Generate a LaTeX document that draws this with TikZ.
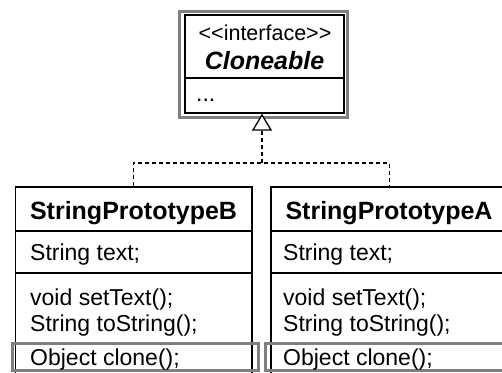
\documentclass[tikz,border=0pt]{standalone}
\usepackage{fontspec}
\setmainfont{Liberation Sans}
\usetikzlibrary{arrows.meta}
\definecolor{framegray}{RGB}{128,128,128}
\begin{document}
\begin{tikzpicture}[x=1pt,y=-1pt,
  boxline/.style={draw=black,line width=1.3pt,rectangle,inner sep=0pt},
  grayframe/.style={draw=framegray,line width=3pt,rectangle,inner sep=0pt},
  dashline/.style={draw=black,line width=1.3pt,dash pattern=on 4pt off 3pt},
  txt/.style={inner sep=0pt,anchor=base west,font=\fontsize{23}{27}\selectfont},
  ttl/.style={inner sep=0pt,anchor=base,font=\fontsize{25}{30}\selectfont\bfseries},
  stereo/.style={inner sep=0pt,anchor=base,font=\fontsize{21.5}{26}\selectfont},
  iname/.style={inner sep=0pt,anchor=base,font=\fontsize{25}{30}\selectfont\bfseries\itshape}]
\useasboundingbox (0,0) rectangle (502,372);
\clip (0,0) rectangle (502,372);
\fill[white] (0,0) rectangle (502,372);
% interface
\node[grayframe,minimum width=168pt,minimum height=106pt] (ifg) at (263.5,64.5) {};
\node[boxline,minimum width=159pt,minimum height=98pt] (ifc) at (264.5,64) {};
\draw[boxline] (ifc.west |- 0,78) -- (ifc.east |- 0,78);
\node[stereo] (ist) at (265,40) {<\kern0pt<interface>\kern0pt>};
\node[iname] (inm) at (264.5,69) {Cloneable};
\node[txt] (idots) at (196,101) {...};
% classes
\node[boxline,minimum width=236.5pt,minimum height=193pt] (lb) at (133.75,283.5) {};
\node[boxline,minimum width=237pt,minimum height=193pt] (rb) at (389.5,283.5) {};
\draw[boxline] (lb.west |- 0,231) -- (lb.east |- 0,231);
\draw[boxline] (lb.west |- 0,273) -- (lb.east |- 0,273);
\draw[boxline] (rb.west |- 0,231) -- (rb.east |- 0,231);
\draw[boxline] (rb.west |- 0,273) -- (rb.east |- 0,273);
\node[grayframe,minimum width=246pt,minimum height=27pt] (lcl) at (135.5,357) {};
\node[grayframe,minimum width=249pt,minimum height=27pt] (rcl) at (390,357) {};
% left texts
\node[ttl] (lt) at (133.5,219) {StringPrototypeB};
\node[txt] (la) at (30,260) {String text;};
\node[txt] (lm1) at (30,305) {void setText();};
\node[txt] (lm2) at (30,331) {String toString();};
\node[txt] (lm3) at (30,365) {Object clone();};
% right texts
\node[ttl] (rt) at (389,219) {StringPrototypeA};
\node[txt] (ra) at (283,260) {String text;};
\node[txt] (rm1) at (283,305) {void setText();};
\node[txt] (rm2) at (283,331) {String toString();};
\node[txt] (rm3) at (283,365) {Object clone();};
% realization connectors
\coordinate (j) at (262,163);
\draw[dashline] (lb.north) |- (j) -| (rb.north);
\draw[dashline,-{Triangle[open,fill=white,length=17pt,width=20pt,line width=1.3pt]}] (j) -- (j |- ifc.south);
\end{tikzpicture}
\end{document}
